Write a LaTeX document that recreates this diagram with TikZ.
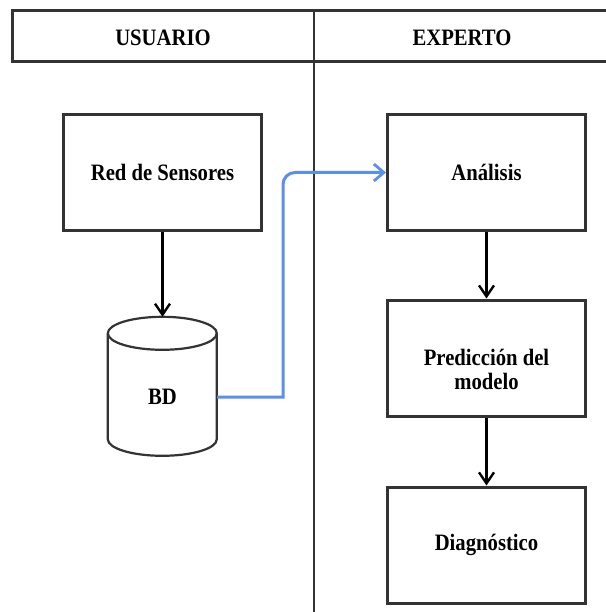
\documentclass[tikz,border=0pt]{standalone}
\usepackage{fontspec}
\setmainfont{Liberation Serif}[FakeStretch=0.88]
\usetikzlibrary{arrows.meta}
\definecolor{edge}{HTML}{333333}
\definecolor{flow}{HTML}{5B8FEF}
\tikzset{
  lane/.style={draw=edge, line width=3pt},
  txt/.style={font=\fontsize{23.5}{24}\selectfont\bfseries, align=center, inner sep=0pt},
  stepbox/.style={draw=edge, line width=3pt, minimum width=198pt, minimum height=116pt, txt},
  link/.style={line width=2.4pt, black, -{Straight Barb[length=11pt,width=15pt,line width=2.4pt]}},
  bluelink/.style={line width=3pt, flow, -{Straight Barb[length=10pt,width=17pt,line width=2.8pt]}}
}
\begin{document}
\begin{tikzpicture}[x=1pt, y=-1pt]
  \useasboundingbox (0,0) rectangle (605,612);
  \fill[white] (0,0) rectangle (605,612);

  % swimlane header and divider
  \draw[lane] (12,11) rectangle (620,62);
  \draw[draw=edge, line width=2.5pt] (314,11) -- (314,615);
  \node[txt] (usr) at (163,38) {USUARIO};
  \node[txt] (exp) at (462,38) {EXPERTO};

  % user lane
  \node[stepbox] (red) at (162.5,172.5) {Red de Sensores};
  % database cylinder: outline frame of 109 x 139
  \node[minimum width=109pt, minimum height=139pt, inner sep=0pt] (db) at (162.5,386.5) {};
  \draw[draw=edge, line width=2.2pt]
    (db.north west) ++(0,16.5) arc[x radius=54.5, y radius=16.5, start angle=180, end angle=0]
    arc[x radius=54.5, y radius=16.5, start angle=0, end angle=-180];
  \draw[draw=edge, line width=2.2pt]
    (db.north west) ++(0,16.5) -- ++(0,106)
    arc[x radius=54.5, y radius=16.5, start angle=180, end angle=0] -- ++(0,-106);
  \node[txt] (dbl) at (162.5,397) {BD};

  % expert lane
  \node[stepbox] (an) at (486.5,172.5) {Análisis};
  \node[stepbox] (pred) at (486.5,358) {};
  \node[txt] (predl) at (486.5,369) {Predicción del\\modelo};
  \node[stepbox] (diag) at (486.5,545) {Diagnóstico};

  % connectors
  \draw[link] (red.south) -- (db.north);
  \draw[link] (an.south) -- (pred.north);
  \draw[link] (pred.south) -- (diag.north);
  \coordinate (bend) at (283,0);
  \draw[bluelink] (db.east |- dbl) -- (bend |- dbl) [rounded corners=12pt] |- (an.west);
\end{tikzpicture}
\end{document}
